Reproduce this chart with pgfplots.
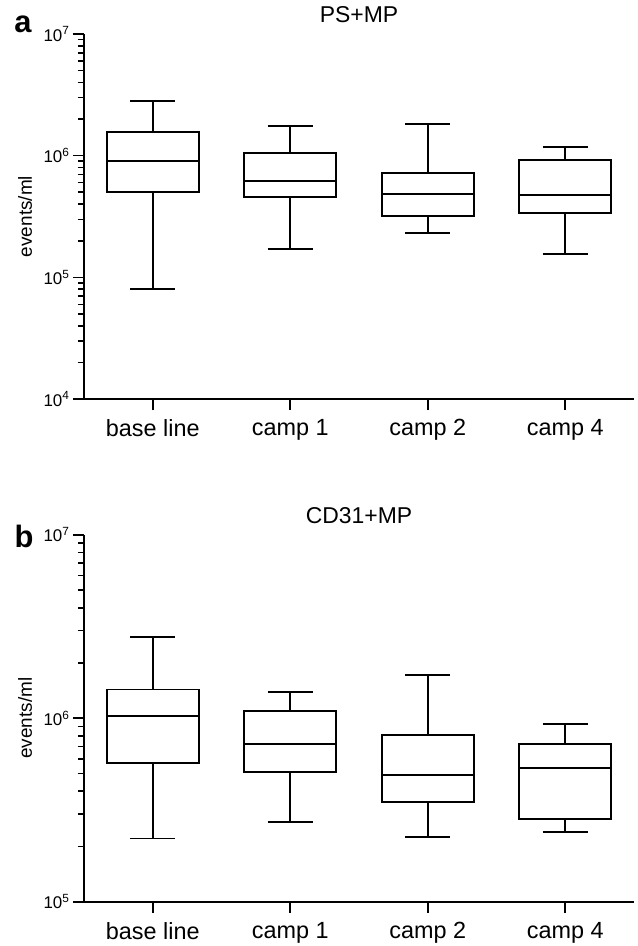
\documentclass[border=0pt]{standalone}
\usepackage{fontspec}
\setmainfont{Liberation Sans}
\usepackage{pgfplots}
\pgfplotsset{compat=1.18}
\usepgfplotslibrary{statistics}

\newcommand{\tl}{\fontsize{17}{17}\selectfont}
\tikzset{tk/.style={black, line width=1.6bp}}
% values are log10(events/ml); the axis is drawn as a decade scale
\pgfplotsset{
  boxpanel/.style={
    scale only axis, width=550bp, clip=false,
    xmin=0.5, xmax=4.5,
    axis x line*=bottom, axis y line*=left,
    axis line style={line width=1.8bp},
    xtick align=outside, ytick align=outside,
    major tick length=11bp, minor tick length=6bp,
    tick style={draw=black, line width=1.6bp},
    xtick={1,2,3,4},
    xticklabels={base line, camp 1, camp 2, camp 4},
    xticklabel style={font=\fontsize{23.5}{24}\selectfont, yshift=-6bp},
    ylabel={\fontsize{19}{19}\selectfont events/ml},
    every axis y label/.style={at={(axis description cs:0,0.5)}, xshift=-59bp,
      rotate=90, anchor=center},
    title style={at={(axis description cs:0.5,1)}, anchor=center, yshift=13bp},
  },
  bx/.style={black, line width=1.8bp, solid, mark=none,
    boxplot/draw direction=y, boxplot/box extend=0.667, boxplot/whisker extend=0.33},
}

\begin{document}
\begin{tikzpicture}
\useasboundingbox (0,0) rectangle (638bp,-946bp);

% panel a
\begin{axis}[boxpanel, at={(84bp,-399bp)}, anchor=south west, height=365bp,
    ymin=4, ymax=7, title={\fontsize{23}{23}\selectfont PS+MP},
    ytick={4,5,6,7},
    yticklabels={\tl 10\textsuperscript{4},\tl 10\textsuperscript{5},\tl 10\textsuperscript{6},\tl 10\textsuperscript{7}},
    minor ytick={4.301,4.477,4.602,4.699,4.778,4.845,4.903,4.954,
                 5.301,5.477,5.602,5.699,5.778,5.845,5.903,5.954,
                 6.301,6.477,6.602,6.699,6.778,6.845,6.903,6.954}]
\addplot[bx, boxplot prepared={draw position=1, lower whisker=4.902, lower quartile=5.699,
    median=5.956, upper quartile=6.195, upper whisker=6.452}] coordinates {};
\addplot[bx, boxplot prepared={draw position=2, lower whisker=5.236, lower quartile=5.663,
    median=5.790, upper quartile=6.025, upper whisker=6.244}] coordinates {};
\addplot[bx, boxplot prepared={draw position=3, lower whisker=5.365, lower quartile=5.502,
    median=5.688, upper quartile=5.860, upper whisker=6.258}] coordinates {};
\addplot[bx, boxplot prepared={draw position=4, lower whisker=5.190, lower quartile=5.527,
    median=5.677, upper quartile=5.962, upper whisker=6.071}] coordinates {};
% tick marks
\pgfplotsinvokeforeach{4,5,6,7}{\draw[tk] (axis cs:0.5,#1) -- ++(-11bp,0bp);}
\pgfplotsinvokeforeach{4.301,4.477,4.602,4.699,4.778,4.845,4.903,4.954,
                 5.301,5.477,5.602,5.699,5.778,5.845,5.903,5.954,
                 6.301,6.477,6.602,6.699,6.778,6.845,6.903,6.954}{\draw[tk] (axis cs:0.5,#1) -- ++(-6bp,0bp);}
\pgfplotsinvokeforeach{1,2,3,4}{\draw[tk] (axis cs:#1,4) -- ++(0bp,-11bp);}
\end{axis}

% panel b
\begin{axis}[boxpanel, at={(84bp,-901.7bp)}, anchor=south west, height=367bp,
    ymin=5, ymax=7, title={\fontsize{23}{23}\selectfont CD31+MP},
    ytick={5,6,7},
    yticklabels={\tl 10\textsuperscript{5},\tl 10\textsuperscript{6},\tl 10\textsuperscript{7}},
    minor ytick={5.301,5.477,5.602,5.699,5.778,5.845,5.903,5.954,
                 6.301,6.477,6.602,6.699,6.778,6.845,6.903,6.954}]
\addplot[bx, boxplot prepared={draw position=1, lower whisker=5.345, lower quartile=5.756,
    median=6.014, upper quartile=6.157, upper whisker=6.443}] coordinates {};
\addplot[bx, boxplot prepared={draw position=2, lower whisker=5.433, lower quartile=5.705,
    median=5.859, upper quartile=6.039, upper whisker=6.145}] coordinates {};
\addplot[bx, boxplot prepared={draw position=3, lower whisker=5.353, lower quartile=5.543,
    median=5.689, upper quartile=5.907, upper whisker=6.235}] coordinates {};
\addplot[bx, boxplot prepared={draw position=4, lower whisker=5.380, lower quartile=5.452,
    median=5.730, upper quartile=5.861, upper whisker=5.967}] coordinates {};
% tick marks
\pgfplotsinvokeforeach{5,6,7}{\draw[tk] (axis cs:0.5,#1) -- ++(-11bp,0bp);}
\pgfplotsinvokeforeach{5.301,5.477,5.602,5.699,5.778,5.845,5.903,5.954,
                 6.301,6.477,6.602,6.699,6.778,6.845,6.903,6.954}{\draw[tk] (axis cs:0.5,#1) -- ++(-6bp,0bp);}
\pgfplotsinvokeforeach{1,2,3,4}{\draw[tk] (axis cs:#1,5) -- ++(0bp,-11bp);}
\end{axis}

% panel letters
\node[font=\bfseries\fontsize{31}{31}\selectfont] at (23bp,-24bp) {a};
\node[font=\bfseries\fontsize{31}{31}\selectfont] at (24bp,-536bp) {b};
\end{tikzpicture}
\end{document}
